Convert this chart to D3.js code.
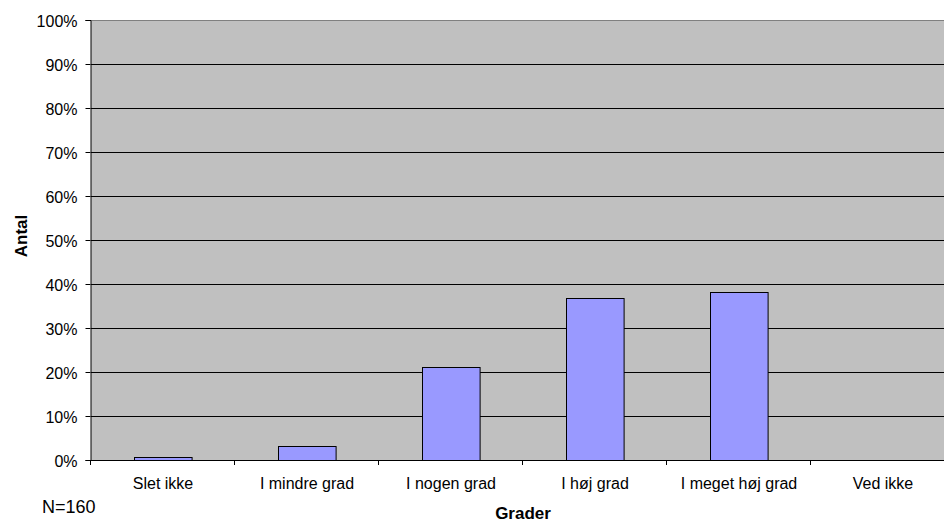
<!DOCTYPE html>
<html>
<head>
<meta charset="utf-8">
<script src="https://cdn.jsdelivr.net/npm/d3@7"></script>
<style>
  body { margin: 0; background: #fff; overflow: hidden; }
  text { font-family: "Liberation Sans", Arial, sans-serif; fill: #000; }
</style>
</head>
<body>
<div id="chart"></div>
<script>
let width = 944,
height = 525;

// data
let categories = ["Slet ikke", "I mindre grad", "I nogen grad", "I høj grad", "I meget høj grad", "Ved ikke"];
let values = [0.6, 3.1, 21.2, 36.9, 38.1, 0]; // percent
let yTicks = [0, 10, 20, 30, 40, 50, 60, 70, 80, 90, 100];

let pLeft = 91, pTop = 20, pRight = 955, pBottom = 460;

let svg = d3.select("#chart")
    .append("svg")
    .attr("width", width)
    .attr("height", height);

let x = d3.scaleBand()
    .domain(categories)
    .range([pLeft, pRight])
    .paddingInner(0.6)
    .paddingOuter(0.3);

let y = d3.scaleLinear()
    .domain([0, 100])
    .range([pBottom, pTop]);

//plot background
svg.append("rect")
    .attr("x", pLeft)
    .attr("y", pTop)
    .attr("width", pRight - pLeft)
    .attr("height", pBottom - pTop)
    .style("fill", "#c0c0c0");

//gridlines
svg.selectAll(".grid")
    .data(yTicks.filter(d => d > 0))
    .enter()
    .append("line")
    .attr("x1", pLeft)
    .attr("x2", pRight)
    .attr("y1", d => Math.round(y(d)) + 0.5)
    .attr("y2", d => Math.round(y(d)) + 0.5)
    .style("stroke", d => d === 100 ? "#808080" : "#000")
    .style("stroke-width", 1);

//bars
svg.selectAll(".bar")
    .data(values)
    .enter()
    .append("rect")
    .attr("x", (d, i) => Math.round(x(categories[i])) + 0.5)
    .attr("y", d => Math.round(y(d)) + 0.5)
    .attr("width", x.bandwidth())
    .attr("height", d => pBottom - Math.round(y(d)))
    .style("fill", "#9999ff")
    .style("stroke", "#000")
    .style("stroke-width", 1)
    .style("display", d => d > 0 ? null : "none");

//y axis
let yAxis = d3.axisLeft(y)
    .tickValues(yTicks)
    .tickSize(5)
    .tickFormat(d => d + "%");
let gy = svg.append("g")
    .attr("transform", "translate(" + (pLeft - 0.5) + ",0)")
    .call(yAxis);
gy.select(".domain").attr("stroke", "#000");
gy.selectAll("text")
    .style("font-size", "16px")
    .attr("x", -13)
    .attr("dy", "0.4em");

//x axis
let xAxis = d3.axisBottom(x).tickSize(0);
let gx = svg.append("g")
    .attr("transform", "translate(0," + (pBottom + 0.5) + ")")
    .call(xAxis);
gx.select(".domain").attr("d", "M" + pLeft + ",0H" + pRight).attr("stroke", "#000");
gx.selectAll("text")
    .style("font-size", "16px")
    .attr("y", 28)
    .attr("dy", 0);

// category separator ticks
let step = x.step();
svg.selectAll(".xtick")
    .data(d3.range(categories.length + 1))
    .enter()
    .append("line")
    .attr("x1", i => Math.round(pLeft + i * step) - 0.5)
    .attr("x2", i => Math.round(pLeft + i * step) - 0.5)
    .attr("y1", pBottom)
    .attr("y2", pBottom + 5)
    .style("stroke", "#000");

//titles
svg.append("text")
    .attr("transform", "translate(27,236) rotate(-90)")
    .attr("text-anchor", "middle")
    .style("font-size", "17px")
    .style("font-weight", "bold")
    .text("Antal");

svg.append("text")
    .attr("x", (pLeft + pRight) / 2)
    .attr("y", 519)
    .attr("text-anchor", "middle")
    .style("font-size", "17px")
    .style("font-weight", "bold")
    .text("Grader");

svg.append("text")
    .attr("x", 42)
    .attr("y", 513)
    .style("font-size", "18px")
    .text("N=160");
</script>
</body>
</html>
